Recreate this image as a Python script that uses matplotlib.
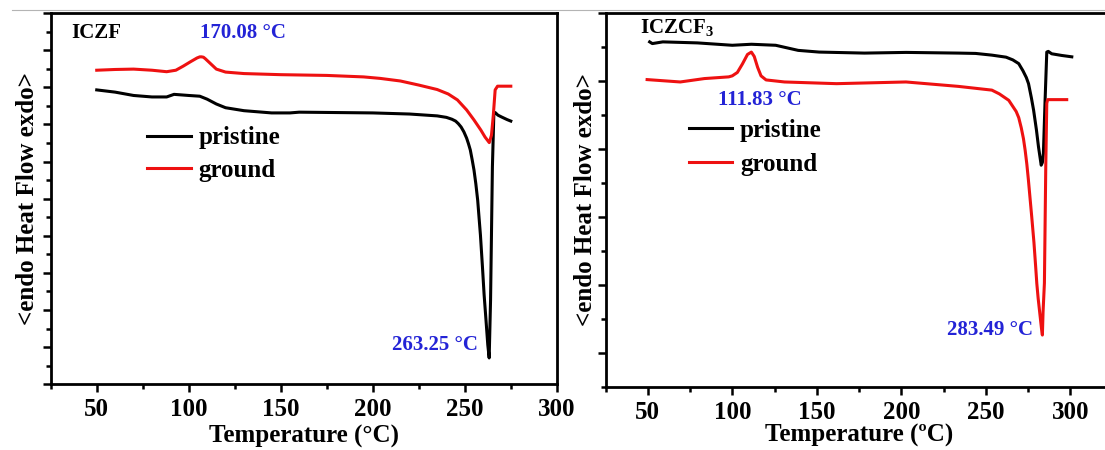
import matplotlib
matplotlib.use("Agg")
from matplotlib import pyplot as plt
from matplotlib.lines import Line2D
from matplotlib.ticker import MultipleLocator, NullFormatter

plt.rcParams['font.family'] = ['Liberation Serif', 'DejaVu Serif']
plt.rcParams['font.weight'] = 'bold'
plt.rcParams['mathtext.fontset'] = 'custom'
plt.rcParams['mathtext.rm'] = 'Liberation Serif'
plt.rcParams['mathtext.bf'] = 'Liberation Serif:bold'

# ---------------------------------------------------------------- data (arbitrary heat flow units)
iczf_pristine_T = [50, 60, 70, 80, 88, 92, 100, 106, 110, 115, 120, 130, 145, 155, 160, 180, 200, 220, 235, 240,
                   243, 245, 246.5, 248, 249.5, 251, 252, 253, 254, 255, 256, 257, 258.5, 259.6, 260.5, 261.4,
                   262.5, 263.25, 264, 265, 265.8, 266.5, 268, 270, 273, 275]
iczf_pristine_Q = [7.93, 7.87, 7.78, 7.74, 7.74, 7.81, 7.78, 7.76, 7.68, 7.55, 7.45, 7.37, 7.31, 7.31, 7.33, 7.32,
                   7.31, 7.28, 7.23, 7.19, 7.14, 7.09, 7.02, 6.93, 6.80, 6.63, 6.48, 6.31, 6.05, 5.77, 5.40, 4.96,
                   4.02, 3.16, 2.41, 1.81, 1.06, 0.71, 2.27, 5.85, 7.31, 7.32, 7.25, 7.20, 7.13, 7.09]
iczf_ground_T = [50, 60, 70, 80, 88, 93, 97, 101, 104.5, 106, 107, 108, 109, 112, 115, 120, 130, 150, 175, 195,
                 204, 215, 225, 235, 241, 246, 251, 255, 258.7, 261, 263.3, 264.5, 265.5, 266.5, 267.8, 275]
iczf_ground_Q = [8.46, 8.48, 8.49, 8.46, 8.42, 8.46, 8.57, 8.69, 8.79, 8.82, 8.82, 8.81, 8.77, 8.63, 8.49, 8.41,
                 8.37, 8.34, 8.32, 8.28, 8.24, 8.17, 8.06, 7.94, 7.82, 7.66, 7.39, 7.12, 6.85, 6.66, 6.51, 6.71,
                 7.25, 7.93, 8.03, 8.03]

iczcf3_pristine_T = [51.1, 52.7, 58.9, 79.4, 100, 111.3, 125.7, 139, 151.4, 178.2, 202.8, 233.8, 244, 253.6,
                     262, 266, 269.5, 272, 274, 275.3, 277, 278.3, 280, 281.2, 282.8, 283.5, 284.1, 285.1,
                     286.1, 287, 289, 295, 300.9]
iczcf3_pristine_Q = [9.15, 9.10, 9.15, 9.12, 9.05, 9.08, 9.05, 8.90, 8.85, 8.82, 8.84, 8.82, 8.81, 8.76,
                     8.70, 8.62, 8.51, 8.30, 8.10, 7.92, 7.50, 7.14, 6.55, 6.06, 5.52, 5.60, 5.87, 7.43,
                     8.85, 8.87, 8.80, 8.75, 8.71]
iczcf3_ground_T = [49.6, 69.2, 83.5, 97.9, 100, 103, 106, 109, 111.3, 113, 115, 117, 120, 130.9, 161.7, 202.8,
                   233.8, 253.6, 258, 263.6, 266, 268, 269.5, 271, 272.3, 273.3, 274.3, 275.2, 276.2, 277.2, 278.5,
                   279.5, 280.2, 281, 282.2, 283, 283.5, 283.9, 284.7, 285.5, 286.1, 286.6, 288.1, 297.9]
iczcf3_ground_Q = [8.04, 7.97, 8.07, 8.12, 8.15, 8.25, 8.50, 8.78, 8.85, 8.72, 8.40, 8.15, 8.03, 7.97, 7.92, 7.97,
                   7.84, 7.73, 7.62, 7.43, 7.25, 7.10, 6.92, 6.62, 6.30, 5.96, 5.55, 5.10, 4.55, 4.00, 3.25,
                   2.55, 2.04, 1.60, 1.06, 0.70, 0.52, 1.20, 2.05, 5.47, 7.34, 7.45, 7.45, 7.45]

x_ticks = [50, 100, 150, 200, 250, 300]
series_names = ['pristine', 'ground']
series_colors = ['black', '#ee1111']
blue = '#2323d6'


def draw_panel(fig, rect, xlim, ylim, ymajor, curves, name, peaks, xlabel, xpad, ypad, leg_anchor, leg_space):
    ax = fig.add_axes(rect)
    for (T, Q), c, lab in zip(curves, series_colors, series_names):
        ax.plot(T, Q, color=c, lw=2.2, label=lab, solid_joinstyle='round')
    ax.set_xlim(*xlim)                                                          # axis ranges
    ax.set_ylim(*ylim)
    ax.set_xticks(x_ticks)
    ax.xaxis.set_minor_locator(MultipleLocator(25))
    ax.yaxis.set_major_locator(MultipleLocator(ymajor))
    ax.yaxis.set_minor_locator(MultipleLocator(ymajor / 2))
    ax.yaxis.set_major_formatter(NullFormatter())
    ax.tick_params(which='major', direction='out', length=6, width=1.8, labelsize=18, pad=4)
    ax.tick_params(which='minor', direction='out', length=3.5, width=1.8)
    for s in ax.spines.values():
        s.set_linewidth(2.0)
    ax.set_xlabel(xlabel, fontsize=18, fontweight='bold', labelpad=xpad)
    ax.set_ylabel('<endo Heat Flow exdo>', fontsize=18, fontweight='bold', labelpad=ypad)
    ax.text(name[1], name[2], name[0], fontsize=15, fontweight='bold', va='center', ha='left')
    for txt, x, y in peaks:                                                     # peak temperature labels
        ax.text(x, y, txt, color=blue, fontsize=15, fontweight='bold', ha='center', va='center')
    leg = ax.legend(loc='upper left', bbox_to_anchor=leg_anchor, frameon=False, fontsize=18,
                    handlelength=1.75, handletextpad=0.3, labelspacing=leg_space, borderpad=0, borderaxespad=0)
    for h in leg.get_lines():
        h.set_linewidth(2.2)
    return ax


fig = plt.figure(figsize=(11.05, 4.5), dpi=100)

draw_panel(fig, [0.0459, 0.146, 0.458, 0.825], (25, 300), (0, 10), 1,
           [(iczf_pristine_T, iczf_pristine_Q), (iczf_ground_T, iczf_ground_Q)],
           ('ICZF', 36, 9.46),
           [('170.08 °C', 129.5, 9.46), ('263.25 °C', 233.9, 1.06)],
           'Temperature (°C)', 3, -1.5, (0.19, 0.695), 0.37)

draw_panel(fig, [0.548, 0.1407, 0.4588, 0.8304], (25, 325), (-1, 10), 2,
           [(iczcf3_pristine_T, iczcf3_pristine_Q), (iczcf3_ground_T, iczcf3_ground_Q)],
           ('ICZCF$_\\mathbf{3}$', 45.3, 9.55),
           [('111.83 °C', 116.3, 7.45), ('283.49 °C', 252.4, 0.67)],
           'Temperature (ºC)', 0, -4, (0.164, 0.716), 0.44)

fig.add_artist(Line2D([12 / 1105, 1], [1 - 10 / 450, 1 - 10 / 450], transform=fig.transFigure,
                      color='#b4b4b4', lw=0.8))                                 # thin grey rule at the very top

fig.savefig('out.png', dpi=100)
